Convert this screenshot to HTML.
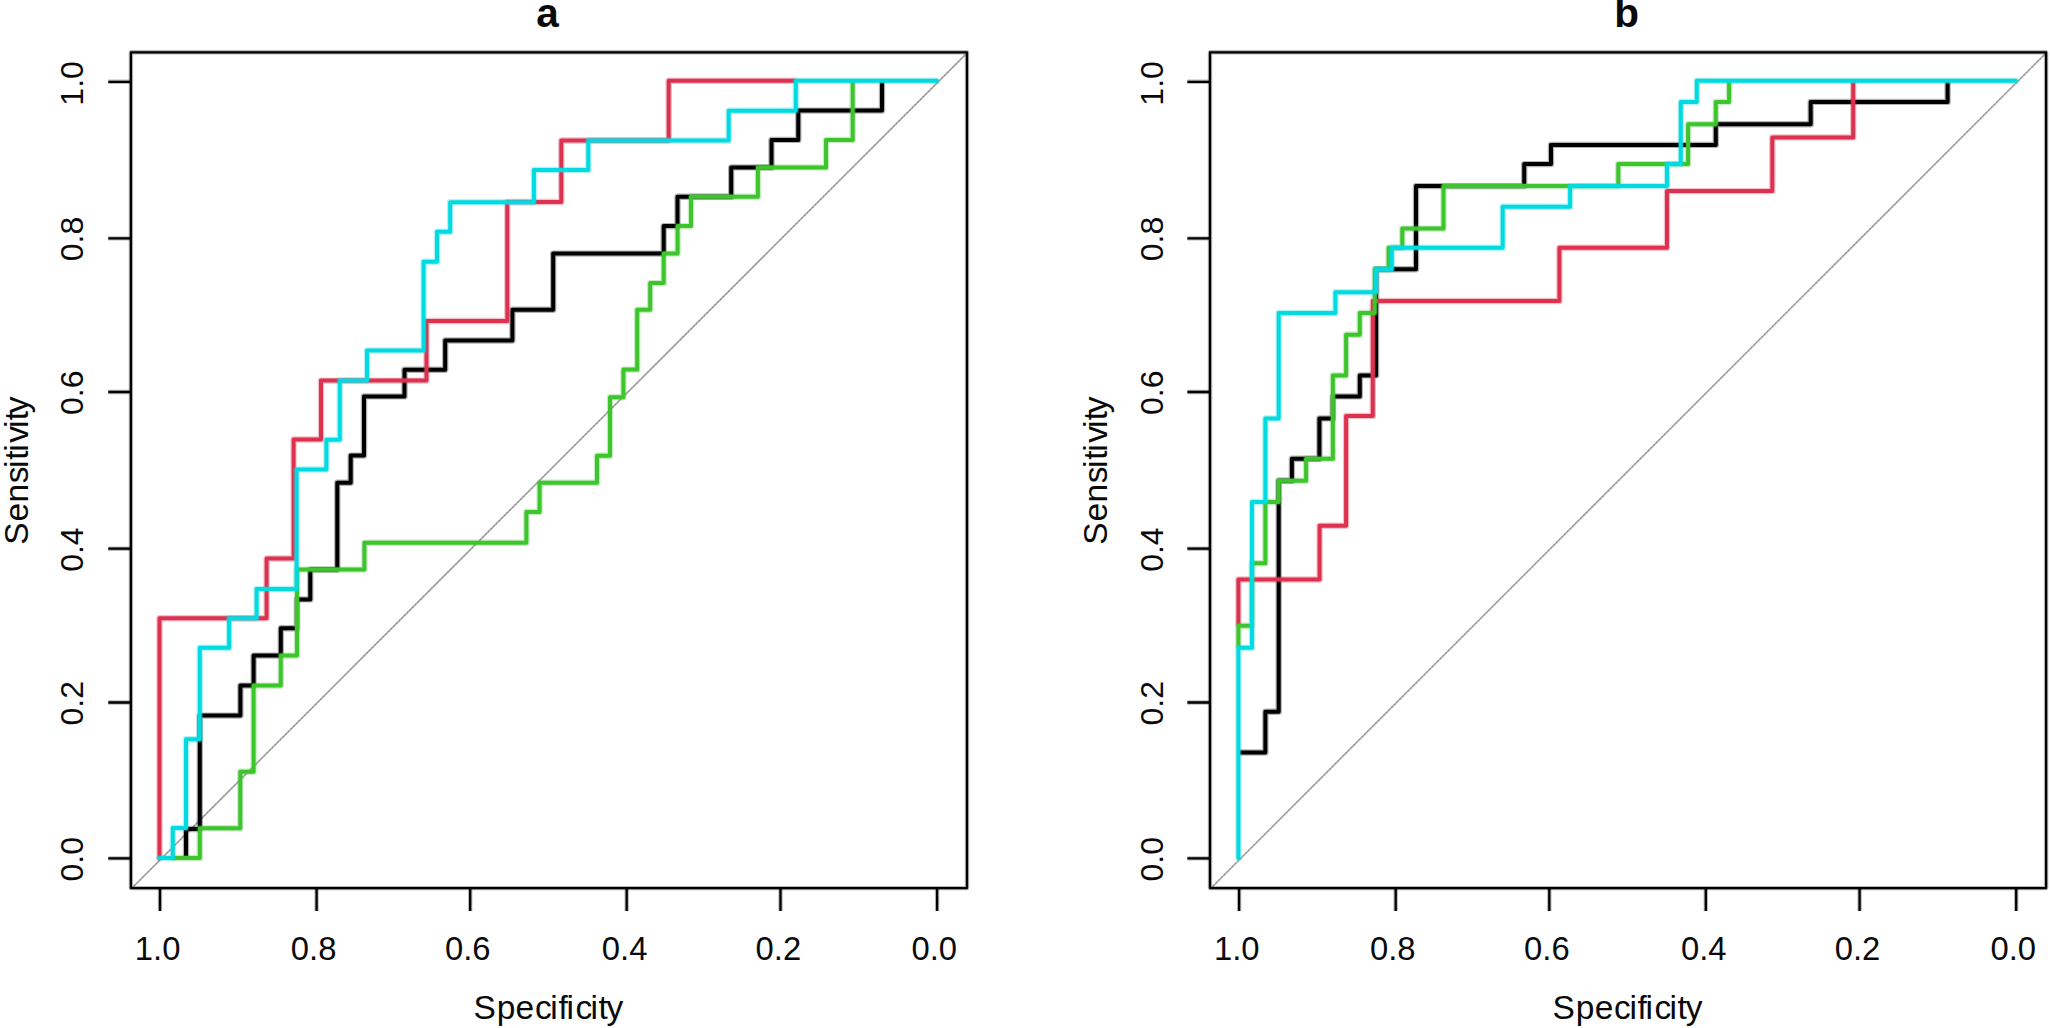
<!DOCTYPE html>
<html><head><meta charset="utf-8"><title>ROC curves</title>
<style>
html,body{margin:0;padding:0;background:#fff;}
body{width:2050px;height:1028px;overflow:hidden;}
svg{display:block;}
text{font-family:"Liberation Sans",Arial,sans-serif;font-size:32.8px;fill:#0a0a0a;}
text.yl{font-size:32px;}
text.ax{font-size:33.5px;}
text.ttl{font-size:40.5px;font-weight:bold;}
</style></head><body>
<svg width="2050" height="1028" viewBox="0 0 2050 1028">
<rect width="2050" height="1028" fill="#fff"/>
<clipPath id="clipa"><rect x="130.9" y="52.3" width="836.1" height="835.8"/></clipPath>
<g clip-path="url(#clipa)"><line x1="125.9" y1="894.1" x2="972.0" y2="48.0" stroke="#adadad" stroke-width="1.7"/><line x1="125.9" y1="894.1" x2="972.0" y2="48.0" stroke="#6e6e6e" stroke-opacity="0.35" stroke-width="1.5" stroke-dasharray="1.9 1.92"/></g>
<g fill="none" stroke="#000000" stroke-linejoin="round" stroke-linecap="round"><path d="M186,855.5 V829 H199.8 V715.6 H240.4 V685.6 H253.6 V655.6 H280.8 V628.2 H297 V599.4 H310.3 V569.6 H337.3 V482.8 H350.7 V455.6 H364 V396.4 H404.5 V369.7 H445.2 V340.5 H512.4 V309.8 H553.2 V253.6 H663.7 V226.1 H677.5 V196.8 H731.2 V167.4 H771.5 V139.9 H798.3 V110.6 H882 V82.3" stroke-width="6.4" stroke-opacity="0.3"/><path d="M186,855.5 V829 H199.8 V715.6 H240.4 V685.6 H253.6 V655.6 H280.8 V628.2 H297 V599.4 H310.3 V569.6 H337.3 V482.8 H350.7 V455.6 H364 V396.4 H404.5 V369.7 H445.2 V340.5 H512.4 V309.8 H553.2 V253.6 H663.7 V226.1 H677.5 V196.8 H731.2 V167.4 H771.5 V139.9 H798.3 V110.6 H882 V82.3" stroke-width="4.0"/></g>
<g fill="none" stroke="#DC3250" stroke-linejoin="round" stroke-linecap="round"><path d="M159.5,858 V618.2 H266.6 V558.5 H293.6 V439.5 H321 V380.6 H426.5 V321 H507.3 V202 H561.3 V140.5 H668.7 V80.8 H794.5" stroke-width="6.4" stroke-opacity="0.3"/><path d="M159.5,858 V618.2 H266.6 V558.5 H293.6 V439.5 H321 V380.6 H426.5 V321 H507.3 V202 H561.3 V140.5 H668.7 V80.8 H794.5" stroke-width="4.0"/></g>
<g fill="none" stroke="#3EC42D" stroke-linejoin="round" stroke-linecap="round"><path d="M172.8,858 H199.8 V828.3 H240.3 V771.8 H253.6 V685.6 H280.8 V655.6 H297 V569.6 H364.4 V542.8 H526.4 V512 H539.6 V482.8 H597 V455.8 H610 V397.2 H623.4 V369.6 H637.2 V309.8 H650.2 V283.1 H663.7 V253.6 H677.6 V226.1 H691 V196.8 H757.9 V167.4 H826 V139.9 H852.7 V82.3" stroke-width="6.4" stroke-opacity="0.3"/><path d="M172.8,858 H199.8 V828.3 H240.3 V771.8 H253.6 V685.6 H280.8 V655.6 H297 V569.6 H364.4 V542.8 H526.4 V512 H539.6 V482.8 H597 V455.8 H610 V397.2 H623.4 V369.6 H637.2 V309.8 H650.2 V283.1 H663.7 V253.6 H677.6 V226.1 H691 V196.8 H757.9 V167.4 H826 V139.9 H852.7 V82.3" stroke-width="4.0"/></g>
<g fill="none" stroke="#00DAE0" stroke-linejoin="round" stroke-linecap="round"><path d="M159.5,858 H172.8 V828 H186 V739.3 H199.8 V647.7 H229.1 V618.2 H256.6 V589 H296.6 V469.4 H326.4 V439.7 H339.8 V380.6 H367 V350.4 H423.6 V261.8 H437 V231.8 H450.2 V202.2 H533.9 V169.9 H588.3 V140.4 H728.7 V110.7 H795.8 V80.8 H936.7" stroke-width="6.4" stroke-opacity="0.3"/><path d="M159.5,858 H172.8 V828 H186 V739.3 H199.8 V647.7 H229.1 V618.2 H256.6 V589 H296.6 V469.4 H326.4 V439.7 H339.8 V380.6 H367 V350.4 H423.6 V261.8 H437 V231.8 H450.2 V202.2 H533.9 V169.9 H588.3 V140.4 H728.7 V110.7 H795.8 V80.8 H936.7" stroke-width="4.0"/></g>
<rect x="130.9" y="52.3" width="836.1" height="835.8" fill="none" stroke="#000" stroke-width="4.4" stroke-opacity="0.28" stroke-linejoin="round"/>
<rect x="130.9" y="52.3" width="836.1" height="835.8" fill="none" stroke="#000" stroke-width="2.3" stroke-linejoin="round"/>
<text x="157.6" y="959.6" text-anchor="middle">1.0</text>
<text x="313.6" y="959.6" text-anchor="middle">0.8</text>
<text x="467.8" y="959.6" text-anchor="middle">0.6</text>
<text x="624.6" y="959.6" text-anchor="middle">0.4</text>
<text x="778.4" y="959.6" text-anchor="middle">0.2</text>
<text x="934.2" y="959.6" text-anchor="middle">0.0</text>
<text class="yl" transform="translate(83.4,83.4) rotate(-90)" text-anchor="middle">1.0</text>
<text class="yl" transform="translate(83.4,239.0) rotate(-90)" text-anchor="middle">0.8</text>
<text class="yl" transform="translate(83.4,392.8) rotate(-90)" text-anchor="middle">0.6</text>
<text class="yl" transform="translate(83.4,549.6) rotate(-90)" text-anchor="middle">0.4</text>
<text class="yl" transform="translate(83.4,703.3) rotate(-90)" text-anchor="middle">0.2</text>
<text class="yl" transform="translate(83.4,859.2) rotate(-90)" text-anchor="middle">0.0</text>
<path d="M160.0,888.1V911 M316.6,888.1V911 M470.2,888.1V911 M626.7,888.1V911 M780.5,888.1V911 M937.1,888.1V911 M130.9,81.8H108.3 M130.9,238.4H108.3 M130.9,392.0H108.3 M130.9,548.7H108.3 M130.9,702.5H108.3 M130.9,858.4H108.3" fill="none" stroke="#000" stroke-width="4.4" stroke-opacity="0.28"/>
<path d="M160.0,888.1V911 M316.6,888.1V911 M470.2,888.1V911 M626.7,888.1V911 M780.5,888.1V911 M937.1,888.1V911 M130.9,81.8H108.3 M130.9,238.4H108.3 M130.9,392.0H108.3 M130.9,548.7H108.3 M130.9,702.5H108.3 M130.9,858.4H108.3" fill="none" stroke="#000" stroke-width="2.3"/>
<text class="ax" x="473.4 496.7 515.6 535.0 550.3 558.4 566.5 575.5 590.4 598.5 606.6" y="1019.2">Specificity</text>
<text class="ax" transform="translate(27.6,544.8) rotate(-90)" x="0.0 23.3 42.2 61.6 76.9 85.0 93.1 102.1 116.7 124.5 131.6" y="0">Sensitivity</text>
<text class="ttl" x="547.6" y="26.6" text-anchor="middle">a</text>
<clipPath id="clipb"><rect x="1210.0" y="52.3" width="836.1" height="835.8"/></clipPath>
<g clip-path="url(#clipb)"><line x1="1205.0" y1="894.1" x2="2051.1" y2="48.0" stroke="#adadad" stroke-width="1.7"/><line x1="1205.0" y1="894.1" x2="2051.1" y2="48.0" stroke="#6e6e6e" stroke-opacity="0.35" stroke-width="1.5" stroke-dasharray="1.9 1.92"/></g>
<g fill="none" stroke="#000000" stroke-linejoin="round" stroke-linecap="round"><path d="M1240.6,752.5 H1265.4 V711.8 H1278.7 V480.8 H1291.9 V458.8 H1319.4 V418.4 H1332.9 V396.4 H1359.8 V375.4 H1376.1 V269.3 H1416 V186.1 H1524.2 V164.1 H1551 V144.9 H1715.8 V124.2 H1810.7 V101.9 H1947.6 V82.3" stroke-width="6.4" stroke-opacity="0.3"/><path d="M1240.6,752.5 H1265.4 V711.8 H1278.7 V480.8 H1291.9 V458.8 H1319.4 V418.4 H1332.9 V396.4 H1359.8 V375.4 H1376.1 V269.3 H1416 V186.1 H1524.2 V164.1 H1551 V144.9 H1715.8 V124.2 H1810.7 V101.9 H1947.6 V82.3" stroke-width="4.0"/></g>
<g fill="none" stroke="#DC3250" stroke-linejoin="round" stroke-linecap="round"><path d="M1238.4,624 V579.5 H1319.6 V525.8 H1346.1 V415.9 H1372.8 V301 H1559.4 V247.8 H1667 V191.1 H1772.3 V137.4 H1853.2 V82.3" stroke-width="6.4" stroke-opacity="0.3"/><path d="M1238.4,624 V579.5 H1319.6 V525.8 H1346.1 V415.9 H1372.8 V301 H1559.4 V247.8 H1667 V191.1 H1772.3 V137.4 H1853.2 V82.3" stroke-width="4.0"/></g>
<g fill="none" stroke="#3EC42D" stroke-linejoin="round" stroke-linecap="round"><path d="M1238.4,646 V625.7 H1252 V563.2 H1265.4 V502 H1278.7 V480.8 H1306.1 V458.8 H1332.9 V375.4 H1346.1 V334.7 H1359.8 V313 H1374.8 V269.3 H1388.6 V247.8 H1402.3 V228.6 H1443.5 V186.1 H1618.3 V164.1 H1688.1 V124.2 H1715.8 V101.9 H1729.1 V82.3" stroke-width="6.4" stroke-opacity="0.3"/><path d="M1238.4,646 V625.7 H1252 V563.2 H1265.4 V502 H1278.7 V480.8 H1306.1 V458.8 H1332.9 V375.4 H1346.1 V334.7 H1359.8 V313 H1374.8 V269.3 H1388.6 V247.8 H1402.3 V228.6 H1443.5 V186.1 H1618.3 V164.1 H1688.1 V124.2 H1715.8 V101.9 H1729.1 V82.3" stroke-width="4.0"/></g>
<g fill="none" stroke="#00DAE0" stroke-linejoin="round" stroke-linecap="round"><path d="M1238.4,858 V647.7 H1252 V502 H1265.4 V418.4 H1278.7 V313 H1335.4 V292.2 H1376.1 V269.3 H1391.8 V247.8 H1502.7 V206.8 H1570.1 V186.1 H1667 V164.1 H1680.8 V101.9 H1696.8 V80.8 H2015.7" stroke-width="6.4" stroke-opacity="0.3"/><path d="M1238.4,858 V647.7 H1252 V502 H1265.4 V418.4 H1278.7 V313 H1335.4 V292.2 H1376.1 V269.3 H1391.8 V247.8 H1502.7 V206.8 H1570.1 V186.1 H1667 V164.1 H1680.8 V101.9 H1696.8 V80.8 H2015.7" stroke-width="4.0"/></g>
<rect x="1210.0" y="52.3" width="836.1" height="835.8" fill="none" stroke="#000" stroke-width="4.4" stroke-opacity="0.28" stroke-linejoin="round"/>
<rect x="1210.0" y="52.3" width="836.1" height="835.8" fill="none" stroke="#000" stroke-width="2.3" stroke-linejoin="round"/>
<text x="1236.7" y="959.6" text-anchor="middle">1.0</text>
<text x="1392.7" y="959.6" text-anchor="middle">0.8</text>
<text x="1546.9" y="959.6" text-anchor="middle">0.6</text>
<text x="1703.7" y="959.6" text-anchor="middle">0.4</text>
<text x="1857.5" y="959.6" text-anchor="middle">0.2</text>
<text x="2013.3" y="959.6" text-anchor="middle">0.0</text>
<text class="yl" transform="translate(1162.5,83.4) rotate(-90)" text-anchor="middle">1.0</text>
<text class="yl" transform="translate(1162.5,239.0) rotate(-90)" text-anchor="middle">0.8</text>
<text class="yl" transform="translate(1162.5,392.8) rotate(-90)" text-anchor="middle">0.6</text>
<text class="yl" transform="translate(1162.5,549.6) rotate(-90)" text-anchor="middle">0.4</text>
<text class="yl" transform="translate(1162.5,703.3) rotate(-90)" text-anchor="middle">0.2</text>
<text class="yl" transform="translate(1162.5,859.2) rotate(-90)" text-anchor="middle">0.0</text>
<path d="M1239.1,888.1V911 M1395.7,888.1V911 M1549.3,888.1V911 M1705.8,888.1V911 M1859.6,888.1V911 M2016.2,888.1V911 M1210.0,81.8H1187.4 M1210.0,238.4H1187.4 M1210.0,392.0H1187.4 M1210.0,548.7H1187.4 M1210.0,702.5H1187.4 M1210.0,858.4H1187.4" fill="none" stroke="#000" stroke-width="4.4" stroke-opacity="0.28"/>
<path d="M1239.1,888.1V911 M1395.7,888.1V911 M1549.3,888.1V911 M1705.8,888.1V911 M1859.6,888.1V911 M2016.2,888.1V911 M1210.0,81.8H1187.4 M1210.0,238.4H1187.4 M1210.0,392.0H1187.4 M1210.0,548.7H1187.4 M1210.0,702.5H1187.4 M1210.0,858.4H1187.4" fill="none" stroke="#000" stroke-width="2.3"/>
<text class="ax" x="1552.5 1575.8 1594.7 1614.1 1629.4 1637.5 1645.6 1654.6 1669.5 1677.6 1685.7" y="1019.2">Specificity</text>
<text class="ax" transform="translate(1106.7,544.8) rotate(-90)" x="0.0 23.3 42.2 61.6 76.9 85.0 93.1 102.1 116.7 124.5 131.6" y="0">Sensitivity</text>
<text class="ttl" x="1626.6" y="26.6" text-anchor="middle">b</text>
</svg>
</body></html>
